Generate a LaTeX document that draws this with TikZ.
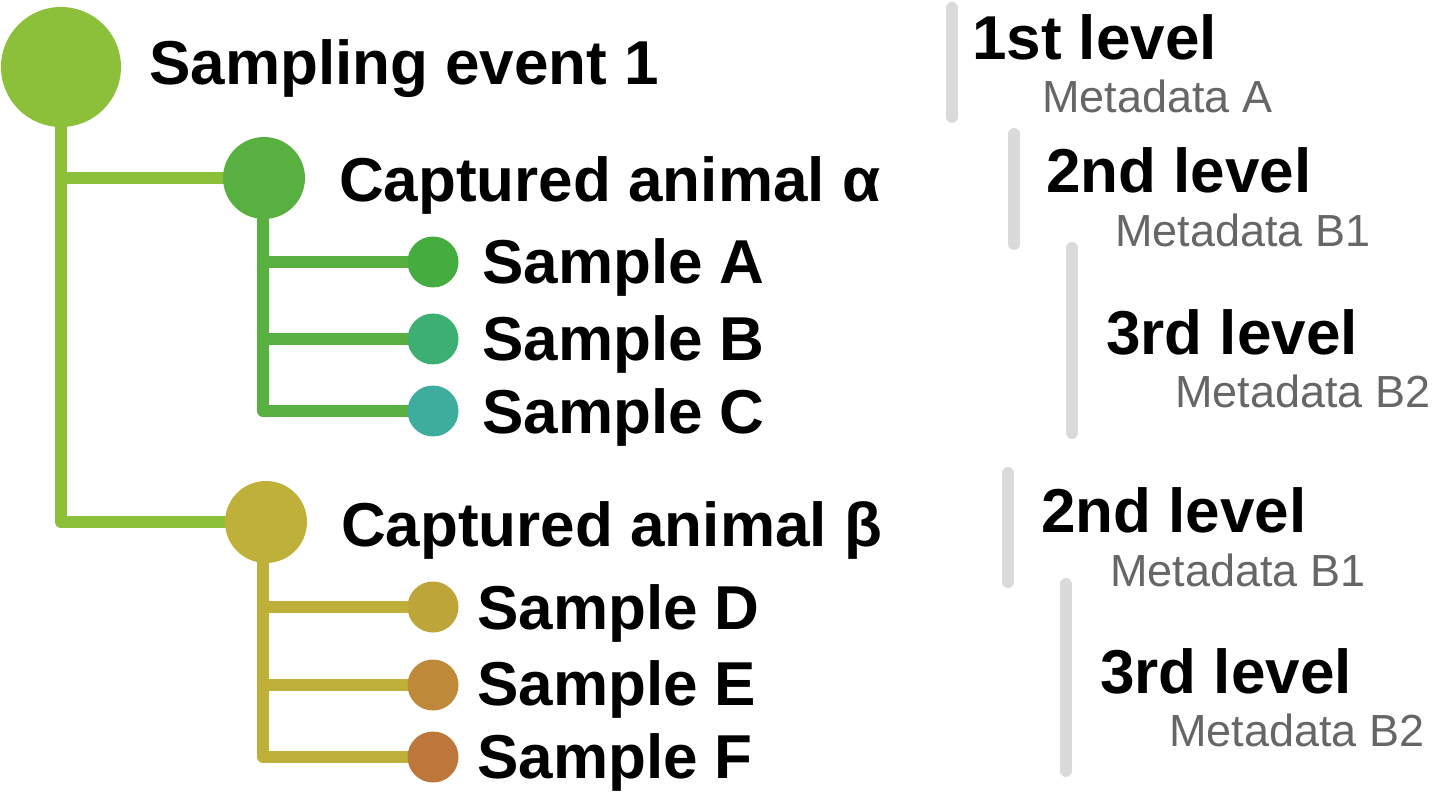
\documentclass[tikz,border=0pt]{standalone}
\usepackage{fontspec}
\setmainfont{Liberation Sans}
\usetikzlibrary{backgrounds}
\definecolor{cEv}{HTML}{8CBF3A}
\definecolor{cAl}{HTML}{58B041}
\definecolor{cBe}{HTML}{BFB03A}
\definecolor{cA}{HTML}{45AC3F}
\definecolor{cB}{HTML}{3EAF72}
\definecolor{cC}{HTML}{3FAD9E}
\definecolor{cD}{HTML}{BEA53A}
\definecolor{cE}{HTML}{BE8A3A}
\definecolor{cF}{HTML}{BE773A}
\definecolor{barGray}{HTML}{DADADA}
\definecolor{metaGray}{HTML}{666666}
\tikzset{
  dot/.style={circle,inner sep=0pt,draw=none},
  bigdot/.style={dot,minimum size=120pt},
  middot/.style={dot,minimum size=82pt},
  smalldot/.style={dot,minimum size=51pt},
  branch/.style={line width=12pt,line join=round},
  boldlbl/.style={anchor=base west,inner sep=0pt,font=\fontsize{62}{70}\selectfont\bfseries},
  metalbl/.style={anchor=base west,inner sep=0pt,text=metaGray,font=\fontsize{45}{50}\selectfont},
  levelbar/.style={line width=12pt,line cap=round,draw=barGray}
}
\begin{document}
\begin{tikzpicture}[x=1pt,y=-1pt]
\useasboundingbox (0,0) rectangle (1436,802);
% tree nodes
\node[bigdot,fill=cEv] (ev) at (61,67) {};
\node[middot,fill=cAl] (al) at (264,178) {};
\node[middot,fill=cBe] (be) at (266,522) {};
\node[smalldot,fill=cA] (sa) at (433,262) {};
\node[smalldot,fill=cB] (sb) at (433,339) {};
\node[smalldot,fill=cC] (sc) at (433,411) {};
\node[smalldot,fill=cD] (sd) at (433,607) {};
\node[smalldot,fill=cE] (se) at (433,685) {};
\node[smalldot,fill=cF] (sf) at (433,757) {};
\coordinate (alx) at (263,0);
% connectors
\begin{scope}[on background layer]
\draw[branch,draw=cEv] (ev.center) |- (be.center);
\draw[branch,draw=cEv] (ev.center |- al.center) -- (al.center);
\draw[branch,draw=cAl] (alx |- al.center) |- (sc.center);
\draw[branch,draw=cAl] (alx |- sa.center) -- (sa.center);
\draw[branch,draw=cAl] (alx |- sb.center) -- (sb.center);
\draw[branch,draw=cBe] (alx |- be.center) |- (sf.center);
\draw[branch,draw=cBe] (alx |- sd.center) -- (sd.center);
\draw[branch,draw=cBe] (alx |- se.center) -- (se.center);
\end{scope}
% labels
\node[boldlbl] (tev) at (149,85) {Sampling event 1};
\node[boldlbl] (tal) at (339,202) {Captured animal α};
\node[boldlbl] (tbe) at (341,546) {Captured animal β};
\node[boldlbl] (ta) at (482,284) {Sample A};
\node[boldlbl] (tb) at (482,361) {Sample B};
\node[boldlbl] (tc) at (482,433) {Sample C};
\node[boldlbl] (td) at (477,629) {Sample D};
\node[boldlbl] (te) at (477,705) {Sample E};
\node[boldlbl] (tf) at (477,778) {Sample F};
% level bars
\draw[levelbar] (952,8) -- (952,117);
\draw[levelbar] (1014,134) -- (1014,244);
\draw[levelbar] (1072,248) -- (1072,433);
\draw[levelbar] (1008,473) -- (1008,582);
\draw[levelbar] (1066,584) -- (1066,771);
% level labels
\node[boldlbl] (l1) at (972,60) {1st level};
\node[metalbl] (m1) at (1042,113) {Metadata A};
\node[boldlbl] (l2) at (1046,193) {2nd level};
\node[metalbl] (m2) at (1115,247) {Metadata B1};
\node[boldlbl] (l3) at (1106,355) {3rd level};
\node[metalbl] (m3) at (1175,408) {Metadata B2};
\node[boldlbl] (l4) at (1041,532) {2nd level};
\node[metalbl] (m4) at (1110,586) {Metadata B1};
\node[boldlbl] (l5) at (1100,693) {3rd level};
\node[metalbl] (m5) at (1169,746) {Metadata B2};
\end{tikzpicture}
\end{document}
